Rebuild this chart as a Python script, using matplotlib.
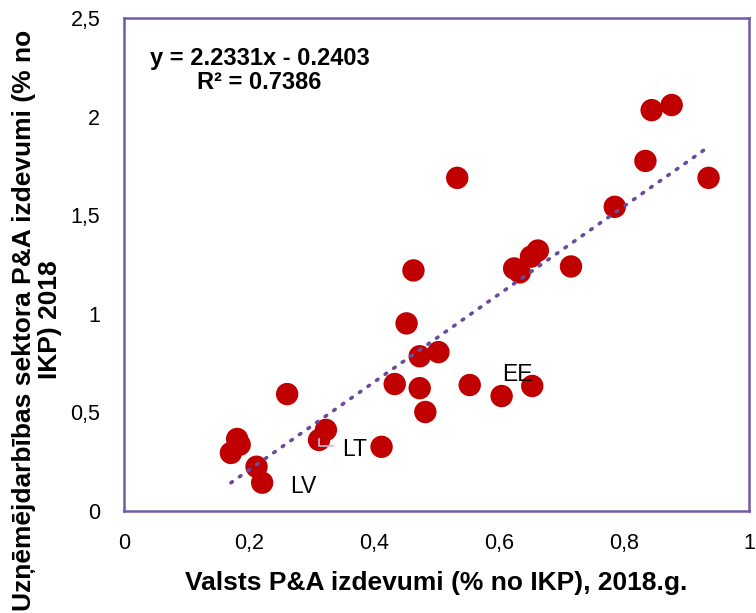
import matplotlib.pyplot as plt
import numpy as np

plt.rcParams['font.family'] = ['Liberation Sans', 'DejaVu Sans']

# Public R&D spending (% of GDP), 2018 and business sector R&D spending (% of GDP), 2018
x_vals = [0.171, 0.181, 0.185, 0.212, 0.221, 0.261, 0.312, 0.323, 0.412,
          0.433, 0.473, 0.482, 0.452, 0.473, 0.503, 0.463, 0.553, 0.604,
          0.653, 0.533, 0.624, 0.633, 0.651, 0.662, 0.715, 0.785, 0.834,
          0.844, 0.876, 0.935]
y_vals = [0.293, 0.364, 0.335, 0.223, 0.142, 0.592, 0.359, 0.410, 0.324,
          0.643, 0.622, 0.501, 0.951, 0.784, 0.805, 1.220, 0.638, 0.582,
          0.633, 1.690, 1.230, 1.210, 1.290, 1.321, 1.240, 1.543, 1.776,
          2.034, 2.060, 1.690]

# labelled countries: name, point index, label position
labels = ['LV', 'LT', 'EE']
label_idx = [4, 6, 18]
label_pos = [(0.265, 0.125), (0.349, 0.31), (0.605, 0.69)]

slope, intercept, r2 = 2.2331, -0.2403, 0.7386
purple = '#7059A6'

fig = plt.figure(figsize=(7.56, 6.13), dpi=100)
ax = fig.add_axes([0.164, 0.167, 0.827, 0.803])

ax.scatter(x_vals, y_vals, s=260, color='#C00000', edgecolors='none', zorder=3)

xt = np.array([min(x_vals), max(x_vals)])
ax.plot(xt, slope * xt + intercept, linestyle=(0, (0.5, 2.4)), color='#6A4C9C',
        linewidth=2.6, dash_capstyle='round', zorder=4)

for name, i, pos in zip(labels, label_idx, label_pos):
    ax.text(pos[0], pos[1], name, fontsize=16.5, ha='left', va='center', zorder=5)
# leader line for LT
ax.plot([0.312, 0.312, 0.334], [0.364, 0.329, 0.329],
        color='#C8BCE0', linewidth=1.2, zorder=5)

ax.text(0.217, 0.895, f'y = {slope}x - {abs(intercept)}\nR² = {r2}',
        transform=ax.transAxes, ha='center', va='center', fontsize=17,
        fontweight='bold', linespacing=1.05)

ax.set_xlim(0, 1)
ax.set_ylim(0, 2.5)
ax.set_xticks([0, 0.2, 0.4, 0.6, 0.8, 1])
ax.set_xticklabels(['0', '0,2', '0,4', '0,6', '0,8', '1'])
ax.set_yticks([0, 0.5, 1, 1.5, 2, 2.5])
ax.set_yticklabels(['0', '0,5', '1', '1,5', '2', '2,5'])
ax.tick_params(length=0, labelsize=15.5)
ax.tick_params(axis='x', pad=16)
ax.tick_params(axis='y', pad=17)

for sp in ax.spines.values():
    sp.set_color(purple)
    sp.set_linewidth(1.8)

ax.set_xlabel('Valsts P&A izdevumi (% no IKP), 2018.g.', fontsize=19,
              fontweight='bold', labelpad=12)
fig.text(0.049, 0.478, 'Uzņēmējdarbības sektora P&A izdevumi (% no\nIKP) 2018',
         fontsize=19, fontweight='bold', rotation=90, ha='center', va='center',
         linespacing=1.1)

plt.savefig('out.png', dpi=100, facecolor='white')
